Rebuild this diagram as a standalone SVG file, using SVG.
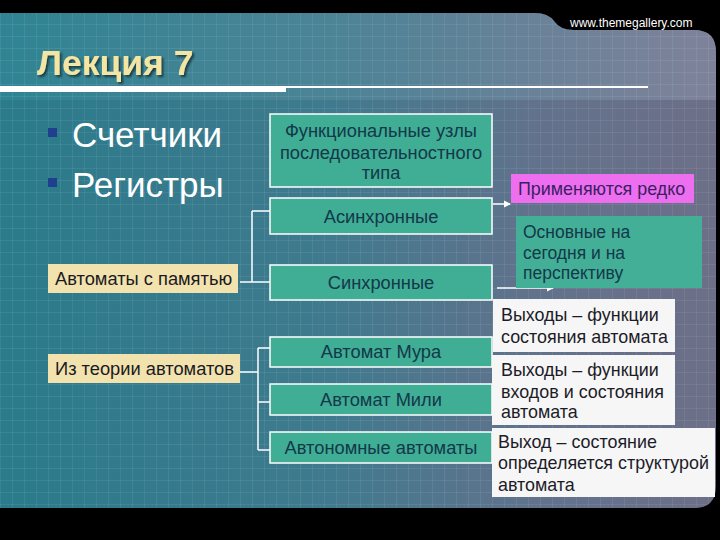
<svg xmlns="http://www.w3.org/2000/svg" width="720" height="540" viewBox="0 0 720 540">
<defs>
<linearGradient id="bg" x1="0" y1="0" x2="1" y2="0">
<stop offset="0" stop-color="#2a7b8b"/>
<stop offset="0.45" stop-color="#3f7a8e"/>
<stop offset="0.75" stop-color="#62728c"/>
<stop offset="1" stop-color="#6d6f88"/>
</linearGradient>
<linearGradient id="topg" x1="0" y1="0" x2="1" y2="0">
<stop offset="0" stop-color="#338a98"/>
<stop offset="0.55" stop-color="#5a8a9c"/>
<stop offset="1" stop-color="#8a8fa6"/>
</linearGradient>
<pattern id="grid" width="12" height="12" patternUnits="userSpaceOnUse">
<path d="M0,0.5 H12 M0.5,0 V12" stroke="#ffffff" stroke-opacity="0.07" stroke-width="1" fill="none"/>
</pattern>
<marker id="arr" markerWidth="8" markerHeight="8" refX="6" refY="4" orient="auto" markerUnits="userSpaceOnUse">
<path d="M0,0.5 L7,4 L0,7.5 Z" fill="#ffffff"/>
</marker>
<filter id="sh" x="-10%" y="-10%" width="130%" height="140%">
<feDropShadow dx="2" dy="2" stdDeviation="0.8" flood-color="#0a2a30" flood-opacity="0.8"/>
</filter>
</defs>
<style>
.teal{fill:#40ad95;stroke:#ffffff;stroke-width:1.5}
.tt{font-family:"Liberation Sans",Arial,sans-serif;font-size:18.3px;fill:#13384a;text-anchor:middle}
.yel{fill:#f2e2ad}
.yt{font-family:"Liberation Sans",Arial,sans-serif;font-size:18.3px;fill:#1a1a24}
.wb{fill:#f6f6f6}
.wt{font-family:"Liberation Sans",Arial,sans-serif;font-size:17.9px;fill:#1c1c28}
.gt{font-family:"Liberation Sans",Arial,sans-serif;font-size:17.5px;fill:#13384a}
.big{font-family:"Liberation Sans",Arial,sans-serif;font-size:35px;fill:#ffffff}
.con{stroke:#ffffff;stroke-width:1.5;fill:none}
</style>
<rect x="0" y="0" width="720" height="540" fill="#000000"/>
<path d="M0,13 H535 Q548,13 554,21 Q560,30 574,30 H694 Q716,30 716,52 V486 Q716,508 694,508 H0 Z" fill="url(#bg)"/>
<path d="M0,13 H535 Q548,13 554,21 Q560,30 574,30 H694 Q716,30 716,52 V100 H0 Z" fill="url(#topg)" opacity="0.6"/>
<path d="M0,13 H535 Q548,13 554,21 Q560,30 574,30 H694 Q716,30 716,52 V486 Q716,508 694,508 H0 Z" fill="url(#grid)"/>
<text x="570" y="27" font-family="Liberation Sans,Arial,sans-serif" font-size="12" fill="#ffffff">www.themegallery.com</text>
<text x="37" y="75" font-family="Liberation Sans,Arial,sans-serif" font-size="35.5" font-weight="bold" fill="#f3e6a4" filter="url(#sh)">Лекция 7</text>
<rect x="0" y="86" width="286" height="6" fill="#ffffff"/>
<rect x="286" y="86" width="362" height="2" fill="#ffffff"/>
<g id="bullets">
<rect x="48" y="128" width="9" height="9" fill="#1f3f8f"/>
<text class="big" x="72" y="147">Счетчики</text>
<rect x="48" y="178" width="9" height="9" fill="#1f3f8f"/>
<text class="big" x="72" y="197">Регистры</text>
</g>
<g id="connectors">
<path class="con" d="M240,282 H252 M252,211 V282 H270 M252,211 H270"/>
<path class="con" d="M240,372 H258 M258,348 V450 M258,348 H270 M258,402 H270 M258,450 H270"/>
<path class="con" d="M493,204 H510" marker-end="url(#arr)"/>
<path class="con" d="M497,288 H553" marker-end="url(#arr)"/>
</g>
<g id="n-func">
<rect class="teal" x="270" y="114" width="222" height="73"/>
<text class="tt" x="381" y="137">Функциональные узлы</text>
<text class="tt" x="381" y="159">последовательностного</text>
<text class="tt" x="381" y="179">типа</text>
</g>
<g id="n-async">
<rect class="teal" x="270" y="198" width="222" height="36"/>
<text class="tt" x="381" y="223">Асинхронные</text>
</g>
<g id="n-sync">
<rect class="teal" x="270" y="265" width="222" height="35"/>
<text class="tt" x="381" y="289">Синхронные</text>
</g>
<g id="n-moore">
<rect class="teal" x="270" y="337" width="222" height="30"/>
<text class="tt" x="381" y="358">Автомат Мура</text>
</g>
<g id="n-mealy">
<rect class="teal" x="270" y="384" width="222" height="31"/>
<text class="tt" x="381" y="406">Автомат Мили</text>
</g>
<g id="n-auto">
<rect class="teal" x="270" y="432" width="222" height="31"/>
<text class="tt" x="381" y="454">Автономные автоматы</text>
</g>
<g id="n-mem">
<rect class="yel" x="48" y="264" width="190" height="29"/>
<text class="yt" x="55" y="285">Автоматы с памятью</text>
</g>
<g id="n-theory">
<rect class="yel" x="48" y="354" width="192" height="29"/>
<text class="yt" x="55" y="375">Из теории автоматов</text>
</g>
<g id="n-rare">
<rect x="511" y="174" width="183" height="29" fill="#ee6ef0"/>
<text x="518" y="195" font-family="Liberation Sans,Arial,sans-serif" font-size="17.9" fill="#3a1f62">Применяются редко</text>
</g>
<g id="n-main">
<rect x="516" y="216" width="186" height="72" fill="#43af96"/>
<text class="gt" x="523" y="238">Основные на</text>
<text class="gt" x="523" y="259">сегодня и на</text>
<text class="gt" x="523" y="279">перспективу</text>
</g>
<g id="n-moore-desc">
<rect class="wb" x="493" y="299" width="182" height="53"/>
<text class="wt" x="501" y="321">Выходы – функции</text>
<text class="wt" x="501" y="343">состояния автомата</text>
</g>
<g id="n-mealy-desc">
<rect class="wb" x="492" y="355" width="183" height="70"/>
<text class="wt" x="501" y="376">Выходы – функции</text>
<text class="wt" x="501" y="398">входов и состояния</text>
<text class="wt" x="501" y="418">автомата</text>
</g>
<g id="n-auto-desc">
<rect class="wb" x="492" y="428" width="223" height="69"/>
<text class="wt" x="498" y="448">Выход – состояние</text>
<text class="wt" x="498" y="469">определяется структурой</text>
<text class="wt" x="498" y="491">автомата</text>
</g>
</svg>
